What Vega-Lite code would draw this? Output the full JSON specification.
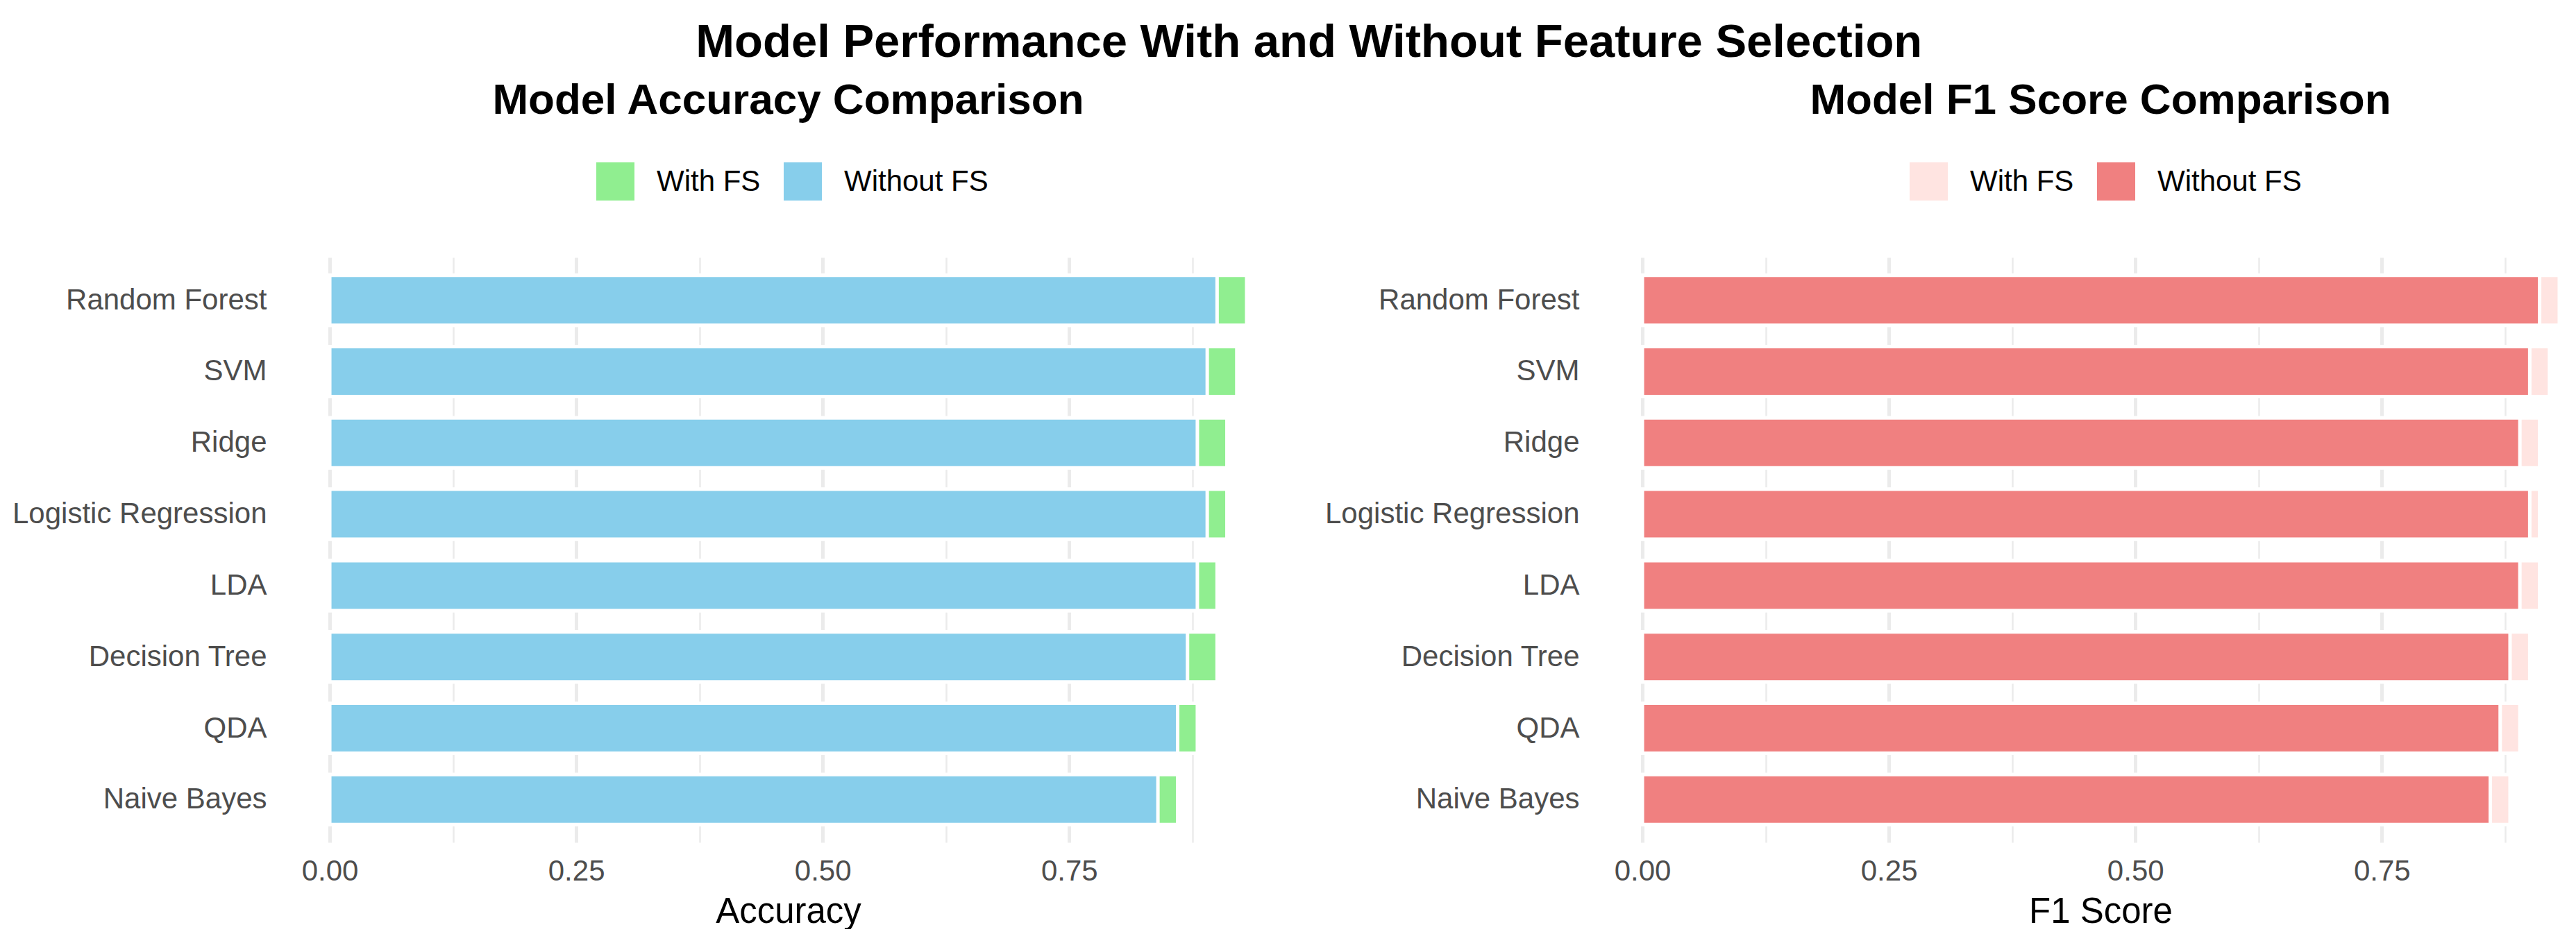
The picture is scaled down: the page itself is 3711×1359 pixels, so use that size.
{
  "$schema": "https://vega.github.io/schema/vega-lite/v6.json",
  "padding": {"left": 17, "top": 28, "right": 0, "bottom": 0},
  "background": "white",
  "config": {
    "font": "Liberation Sans",
    "view": {"stroke": null},
    "title": {"font": "Liberation Sans"},
    "axis": {"labelFont": "Liberation Sans", "titleFont": "Liberation Sans"},
    "legend": {"labelFont": "Liberation Sans"}
  },
  "title": {
    "text": "Model Performance With and Without Feature Selection",
    "fontSize": 67,
    "fontWeight": "bold",
    "color": "black",
    "anchor": "middle",
    "baseline": "alphabetic",
    "dx": 22,
    "offset": -35
  },
  "datasets": {
    "acc": [
      {"Model": "Random Forest", "Type": "With FS", "Value": 0.93},
      {"Model": "SVM", "Type": "With FS", "Value": 0.92},
      {"Model": "Ridge", "Type": "With FS", "Value": 0.91},
      {"Model": "Logistic Regression", "Type": "With FS", "Value": 0.91},
      {"Model": "LDA", "Type": "With FS", "Value": 0.90},
      {"Model": "Decision Tree", "Type": "With FS", "Value": 0.90},
      {"Model": "QDA", "Type": "With FS", "Value": 0.88},
      {"Model": "Naive Bayes", "Type": "With FS", "Value": 0.86},
      {"Model": "Random Forest", "Type": "Without FS", "Value": 0.90},
      {"Model": "SVM", "Type": "Without FS", "Value": 0.89},
      {"Model": "Ridge", "Type": "Without FS", "Value": 0.88},
      {"Model": "Logistic Regression", "Type": "Without FS", "Value": 0.89},
      {"Model": "LDA", "Type": "Without FS", "Value": 0.88},
      {"Model": "Decision Tree", "Type": "Without FS", "Value": 0.87},
      {"Model": "QDA", "Type": "Without FS", "Value": 0.86},
      {"Model": "Naive Bayes", "Type": "Without FS", "Value": 0.84}
    ],
    "f1": [
      {"Model": "Random Forest", "Type": "With FS", "Value": 0.93},
      {"Model": "SVM", "Type": "With FS", "Value": 0.92},
      {"Model": "Ridge", "Type": "With FS", "Value": 0.91},
      {"Model": "Logistic Regression", "Type": "With FS", "Value": 0.91},
      {"Model": "LDA", "Type": "With FS", "Value": 0.91},
      {"Model": "Decision Tree", "Type": "With FS", "Value": 0.90},
      {"Model": "QDA", "Type": "With FS", "Value": 0.89},
      {"Model": "Naive Bayes", "Type": "With FS", "Value": 0.88},
      {"Model": "Random Forest", "Type": "Without FS", "Value": 0.91},
      {"Model": "SVM", "Type": "Without FS", "Value": 0.90},
      {"Model": "Ridge", "Type": "Without FS", "Value": 0.89},
      {"Model": "Logistic Regression", "Type": "Without FS", "Value": 0.90},
      {"Model": "LDA", "Type": "Without FS", "Value": 0.89},
      {"Model": "Decision Tree", "Type": "Without FS", "Value": 0.88},
      {"Model": "QDA", "Type": "Without FS", "Value": 0.87},
      {"Model": "Naive Bayes", "Type": "Without FS", "Value": 0.86}
    ]
  },
  "spacing": 46,
  "hconcat": [
    {
      "width": 1453,
      "height": 843,
      "data": {"name": "acc"},
      "title": {
        "text": "Model Accuracy Comparison",
        "fontSize": 62,
        "fontWeight": "bold",
        "color": "black",
        "anchor": "middle",
        "frame": "group",
        "baseline": "alphabetic",
        "offset": 8
      },
      "mark": {"type": "bar", "stroke": "white", "strokeWidth": 5, "opacity": 1},
      "encoding": {
        "y": {
          "field": "Model",
          "type": "nominal",
          "sort": ["Random Forest", "SVM", "Ridge", "Logistic Regression", "LDA", "Decision Tree", "QDA", "Naive Bayes"],
          "scale": {"paddingInner": 0.3, "paddingOuter": 0.25},
          "axis": {
            "title": null,
            "domain": false,
            "ticks": false,
            "tickSize": 0,
            "grid": false,
            "labelPadding": 25,
            "labelFontSize": 42,
            "labelColor": "#4D4D4D",
            "labelLimit": 1000
          }
        },
        "x": {
          "field": "Value",
          "type": "quantitative",
          "scale": {"domain": [-0.0465, 0.9765], "nice": false, "zero": false},
          "axis": {
            "values": [0, 0.125, 0.25, 0.375, 0.5, 0.625, 0.75, 0.875],
            "labelExpr": "(datum.value * 4) % 1 == 0 ? format(datum.value, '.2f') : ''",
            "grid": true,
            "gridColor": "#EBEBEB",
            "gridWidth": {"condition": {"test": "(datum.value * 4) % 1 == 0", "value": 5}, "value": 2.5},
            "domain": false,
            "ticks": false,
            "tickSize": 0,
            "labelPadding": 21,
            "labelFontSize": 42,
            "labelColor": "#4D4D4D",
            "labelOverlap": false,
            "labelFlush": false,
            "labelBound": false,
            "title": "Accuracy",
            "titleFontSize": 51,
            "titleFontWeight": "normal",
            "titleColor": "black",
            "titlePadding": 13
          }
        },
        "x2": {"datum": 0},
        "color": {
          "field": "Type",
          "type": "nominal",
          "scale": {"domain": ["With FS", "Without FS"], "range": ["#90EE90", "#87CEEB"]},
          "legend": {
            "title": null,
            "orient": "none",
            "legendX": 450,
            "legendY": -137,
            "direction": "horizontal",
            "symbolType": "square",
            "symbolSize": 3025,
            "symbolStrokeWidth": 0,
            "symbolOpacity": 1,
            "labelFontSize": 42,
            "labelColor": "black",
            "labelOffset": 32,
            "columnPadding": 33,
            "labelLimit": 1000,
            "padding": 0
          }
        }
      }
    },
    {
      "width": 1410,
      "height": 843,
      "data": {"name": "f1"},
      "title": {
        "text": "Model F1 Score Comparison",
        "fontSize": 62,
        "fontWeight": "bold",
        "color": "black",
        "anchor": "middle",
        "frame": "group",
        "baseline": "alphabetic",
        "offset": 8,
        "dx": 21
      },
      "mark": {"type": "bar", "stroke": "white", "strokeWidth": 5, "opacity": 1},
      "encoding": {
        "y": {
          "field": "Model",
          "type": "nominal",
          "sort": ["Random Forest", "SVM", "Ridge", "Logistic Regression", "LDA", "Decision Tree", "QDA", "Naive Bayes"],
          "scale": {"paddingInner": 0.3, "paddingOuter": 0.25},
          "axis": {
            "title": null,
            "domain": false,
            "ticks": false,
            "tickSize": 0,
            "grid": false,
            "labelPadding": 25,
            "labelFontSize": 42,
            "labelColor": "#4D4D4D",
            "labelLimit": 1000
          }
        },
        "x": {
          "field": "Value",
          "type": "quantitative",
          "scale": {"domain": [-0.0465, 0.9462], "nice": false, "zero": false},
          "axis": {
            "values": [0, 0.125, 0.25, 0.375, 0.5, 0.625, 0.75, 0.875],
            "labelExpr": "(datum.value * 4) % 1 == 0 ? format(datum.value, '.2f') : ''",
            "grid": true,
            "gridColor": "#EBEBEB",
            "gridWidth": {"condition": {"test": "(datum.value * 4) % 1 == 0", "value": 5}, "value": 2.5},
            "domain": false,
            "ticks": false,
            "tickSize": 0,
            "labelPadding": 21,
            "labelFontSize": 42,
            "labelColor": "#4D4D4D",
            "labelOverlap": false,
            "labelFlush": false,
            "labelBound": false,
            "title": "F1 Score",
            "titleFontSize": 51,
            "titleFontWeight": "normal",
            "titleColor": "black",
            "titlePadding": 13,
            "titleX": 726
          }
        },
        "x2": {"datum": 0},
        "color": {
          "field": "Type",
          "type": "nominal",
          "scale": {"domain": ["With FS", "Without FS"], "range": ["#FFE4E1", "#F08080"]},
          "legend": {
            "title": null,
            "orient": "none",
            "legendX": 451,
            "legendY": -137,
            "direction": "horizontal",
            "symbolType": "square",
            "symbolSize": 3025,
            "symbolStrokeWidth": 0,
            "symbolOpacity": 1,
            "labelFontSize": 42,
            "labelColor": "black",
            "labelOffset": 32,
            "columnPadding": 33,
            "labelLimit": 1000,
            "padding": 0
          }
        }
      }
    }
  ],
  "resolve": {"scale": {"color": "independent", "x": "independent", "y": "independent"}, "legend": {"color": "independent"}}
}
